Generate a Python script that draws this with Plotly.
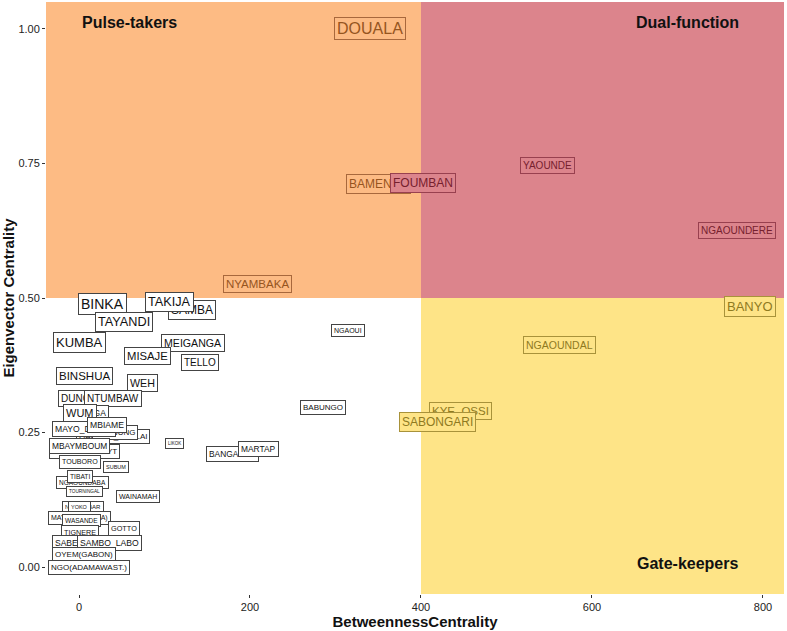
import plotly.graph_objects as go

# ---- data ----
names = [
    "DOUALA", "BAMENDA", "FOUMBAN", "NYAMBAKA", "YAOUNDE", "NGAOUNDERE", "BANYO",
    "NGAOUNDAL", "KYE_OSSI", "SABONGARI", "BABUNGO", "NGAOUI", "LIKOK", "BANGALEM",
    "MARTAP", "SAMBA", "TAKIJA", "BINKA", "TAYANDI", "KUMBA", "MEIGANGA", "MISAJE",
    "TELLO", "BINSHUA", "WEH", "DUNGER", "NTUMBAW", "MBANGA", "WUM", "GAROUA_BOULAI",
    "BAMBUNG", "MAYO_DARLE", "MBIAME", "MBAKANA_MAYT", "MBAYMBOUM", "SUBUM", "TOUBORO",
    "NGAOUNDABA", "TIBATI", "TOURNINGAL", "WAINAMAH", "NGOUMBAR", "YOKO",
    "MAYO_BALEO(A)", "WASANDE", "GOTTO", "TIGNERE", "SABEWANA", "SAMBO_LABO",
    "OYEM(GABON)", "NGO(ADAMAWAST.)",
]
betweenness = [
    340, 350, 402, 209, 548, 770, 785,
    562, 446, 419, 285, 315, 112, 179,
    210, 132, 106, 27.5, 53, 0, 133, 80,
    141.5, 6.5, 74, 4, 40, 9.5, 1, 40,
    42, 6, 33, 7, 0, 43, 1,
    4, 1, 6, 69, 5, 1,
    1, 3, 53, 1, 0, 36,
    6, 12,
]
eigenvector = [
    1.00, 0.712, 0.714, 0.526, 0.747, 0.625, 0.485,
    0.413, 0.290, 0.270, 0.297, 0.439, 0.229, 0.210,
    0.219, 0.478, 0.493, 0.489, 0.455, 0.418, 0.416, 0.392,
    0.381, 0.355, 0.342, 0.314, 0.314, 0.286, 0.286, 0.243,
    0.250, 0.256, 0.264, 0.214, 0.225, 0.186, 0.195,
    0.158, 0.169, 0.141, 0.132, 0.112, 0.112,
    0.091, 0.086, 0.072, 0.065, 0.045, 0.045,
    0.024, 0.000,
]
label_font_px = [
    16, 12, 12, 11.5, 10, 10, 13,
    10.5, 11.5, 12, 8, 7, 4.5, 8.4,
    8.4, 12, 12.7, 14, 12.7, 13, 10.6, 11.3,
    10, 11.5, 10.7, 10, 10, 8.5, 11, 8,
    8, 8.6, 8.6, 8, 8.4, 5.5, 7.1,
    6.5, 6.7, 4.7, 7, 6, 5.5,
    7, 6.5, 7.3, 7.2, 8.5, 8.6,
    8, 8,
]

quadrant_titles = ["Pulse-takers", "Dual-function", "Gate-keepers"]
quadrant_title_x = [59, 712, 712]
quadrant_title_y = [1.011, 1.011, 0.007]

x_split = 400
y_split = 0.5
x_range = [-38.6, 824.6]
y_range = [-0.050, 1.050]
x_ticks = [0, 200, 400, 600, 800]
y_ticks = [0.00, 0.25, 0.50, 0.75, 1.00]

# ---- styles ----
ORANGE = "#FDBB84"
RED = "#DC848C"
YELLOW = "#FEE487"
FONT = "Liberation Sans, Arial, Helvetica, sans-serif"

region_style = {
    "orange": dict(bg=ORANGE, text="#96551F", border="#A8683C"),
    "red": dict(bg=RED, text="#76202E", border="#98404F"),
    "yellow": dict(bg=YELLOW, text="#8F7A1F", border="#A8923A"),
    "white": dict(bg="#FFFFFF", text="#111111", border="#444444"),
}


def region(x, y):
    if y >= y_split:
        return "red" if x >= x_split else "orange"
    return "yellow" if x >= x_split else "white"


fig = go.Figure()
fig.add_trace(go.Scatter(x=betweenness, y=eigenvector, mode="markers",
                         marker=dict(opacity=0), hoverinfo="skip", showlegend=False))

shapes = [
    dict(type="rect", xref="x", yref="y", x0=x_range[0], x1=x_split, y0=y_split, y1=y_range[1],
         fillcolor=ORANGE, line=dict(width=0), layer="below"),
    dict(type="rect", xref="x", yref="y", x0=x_split, x1=x_range[1], y0=y_split, y1=y_range[1],
         fillcolor=RED, line=dict(width=0), layer="below"),
    dict(type="rect", xref="x", yref="y", x0=x_split, x1=x_range[1], y0=y_range[0], y1=y_split,
         fillcolor=YELLOW, line=dict(width=0), layer="below"),
]

annotations = []
for n, bx, ev, fs in zip(names, betweenness, eigenvector, label_font_px):
    st = region_style[region(bx, ev)]
    annotations.append(dict(
        x=bx, y=ev, xref="x", yref="y", text=n, showarrow=False,
        font=dict(family=FONT, size=fs, color=st["text"]),
        bgcolor=st["bg"], bordercolor=st["border"], borderwidth=1, borderpad=2,
        xanchor="center", yanchor="middle",
    ))

for t, tx, ty in zip(quadrant_titles, quadrant_title_x, quadrant_title_y):
    annotations.append(dict(
        x=tx, y=ty, xref="x", yref="y", text="<b>%s</b>" % t, showarrow=False,
        font=dict(family=FONT, size=16, color="#111111"),
        xanchor="center", yanchor="middle",
    ))

fig.update_layout(
    width=787, height=631,
    margin=dict(l=46, r=3, t=2, b=37, autoexpand=False),
    paper_bgcolor="white", plot_bgcolor="white",
    shapes=shapes, annotations=annotations,
    font=dict(family=FONT, color="#333333"),
    showlegend=False,
    xaxis=dict(
        range=x_range, tickvals=x_ticks, ticktext=[str(v) for v in x_ticks],
        showgrid=False, zeroline=False, showline=False, automargin=False,
        ticks="outside", ticklen=3, tickwidth=1, tickcolor="#333333",
        tickfont=dict(family=FONT, size=11, color="#222222"),
        title=dict(text="<b>BetweennessCentrality</b>", standoff=4,
                   font=dict(family=FONT, size=15, color="#111111")),
    ),
    yaxis=dict(
        range=y_range, tickvals=y_ticks, ticktext=["%.2f" % v for v in y_ticks],
        showgrid=False, zeroline=False, showline=False, automargin=False,
        ticks="outside", ticklen=3, tickwidth=1, tickcolor="#333333",
        tickfont=dict(family=FONT, size=11, color="#222222"),
        title=dict(text="<b>Eigenvector Centrality</b>", standoff=4,
                   font=dict(family=FONT, size=15, color="#111111")),
    ),
)

fig.write_html(
    "out.html",
    config={"displayModeBar": False},
    post_script="document.body.style.margin='0';document.body.style.overflow='hidden';",
)
